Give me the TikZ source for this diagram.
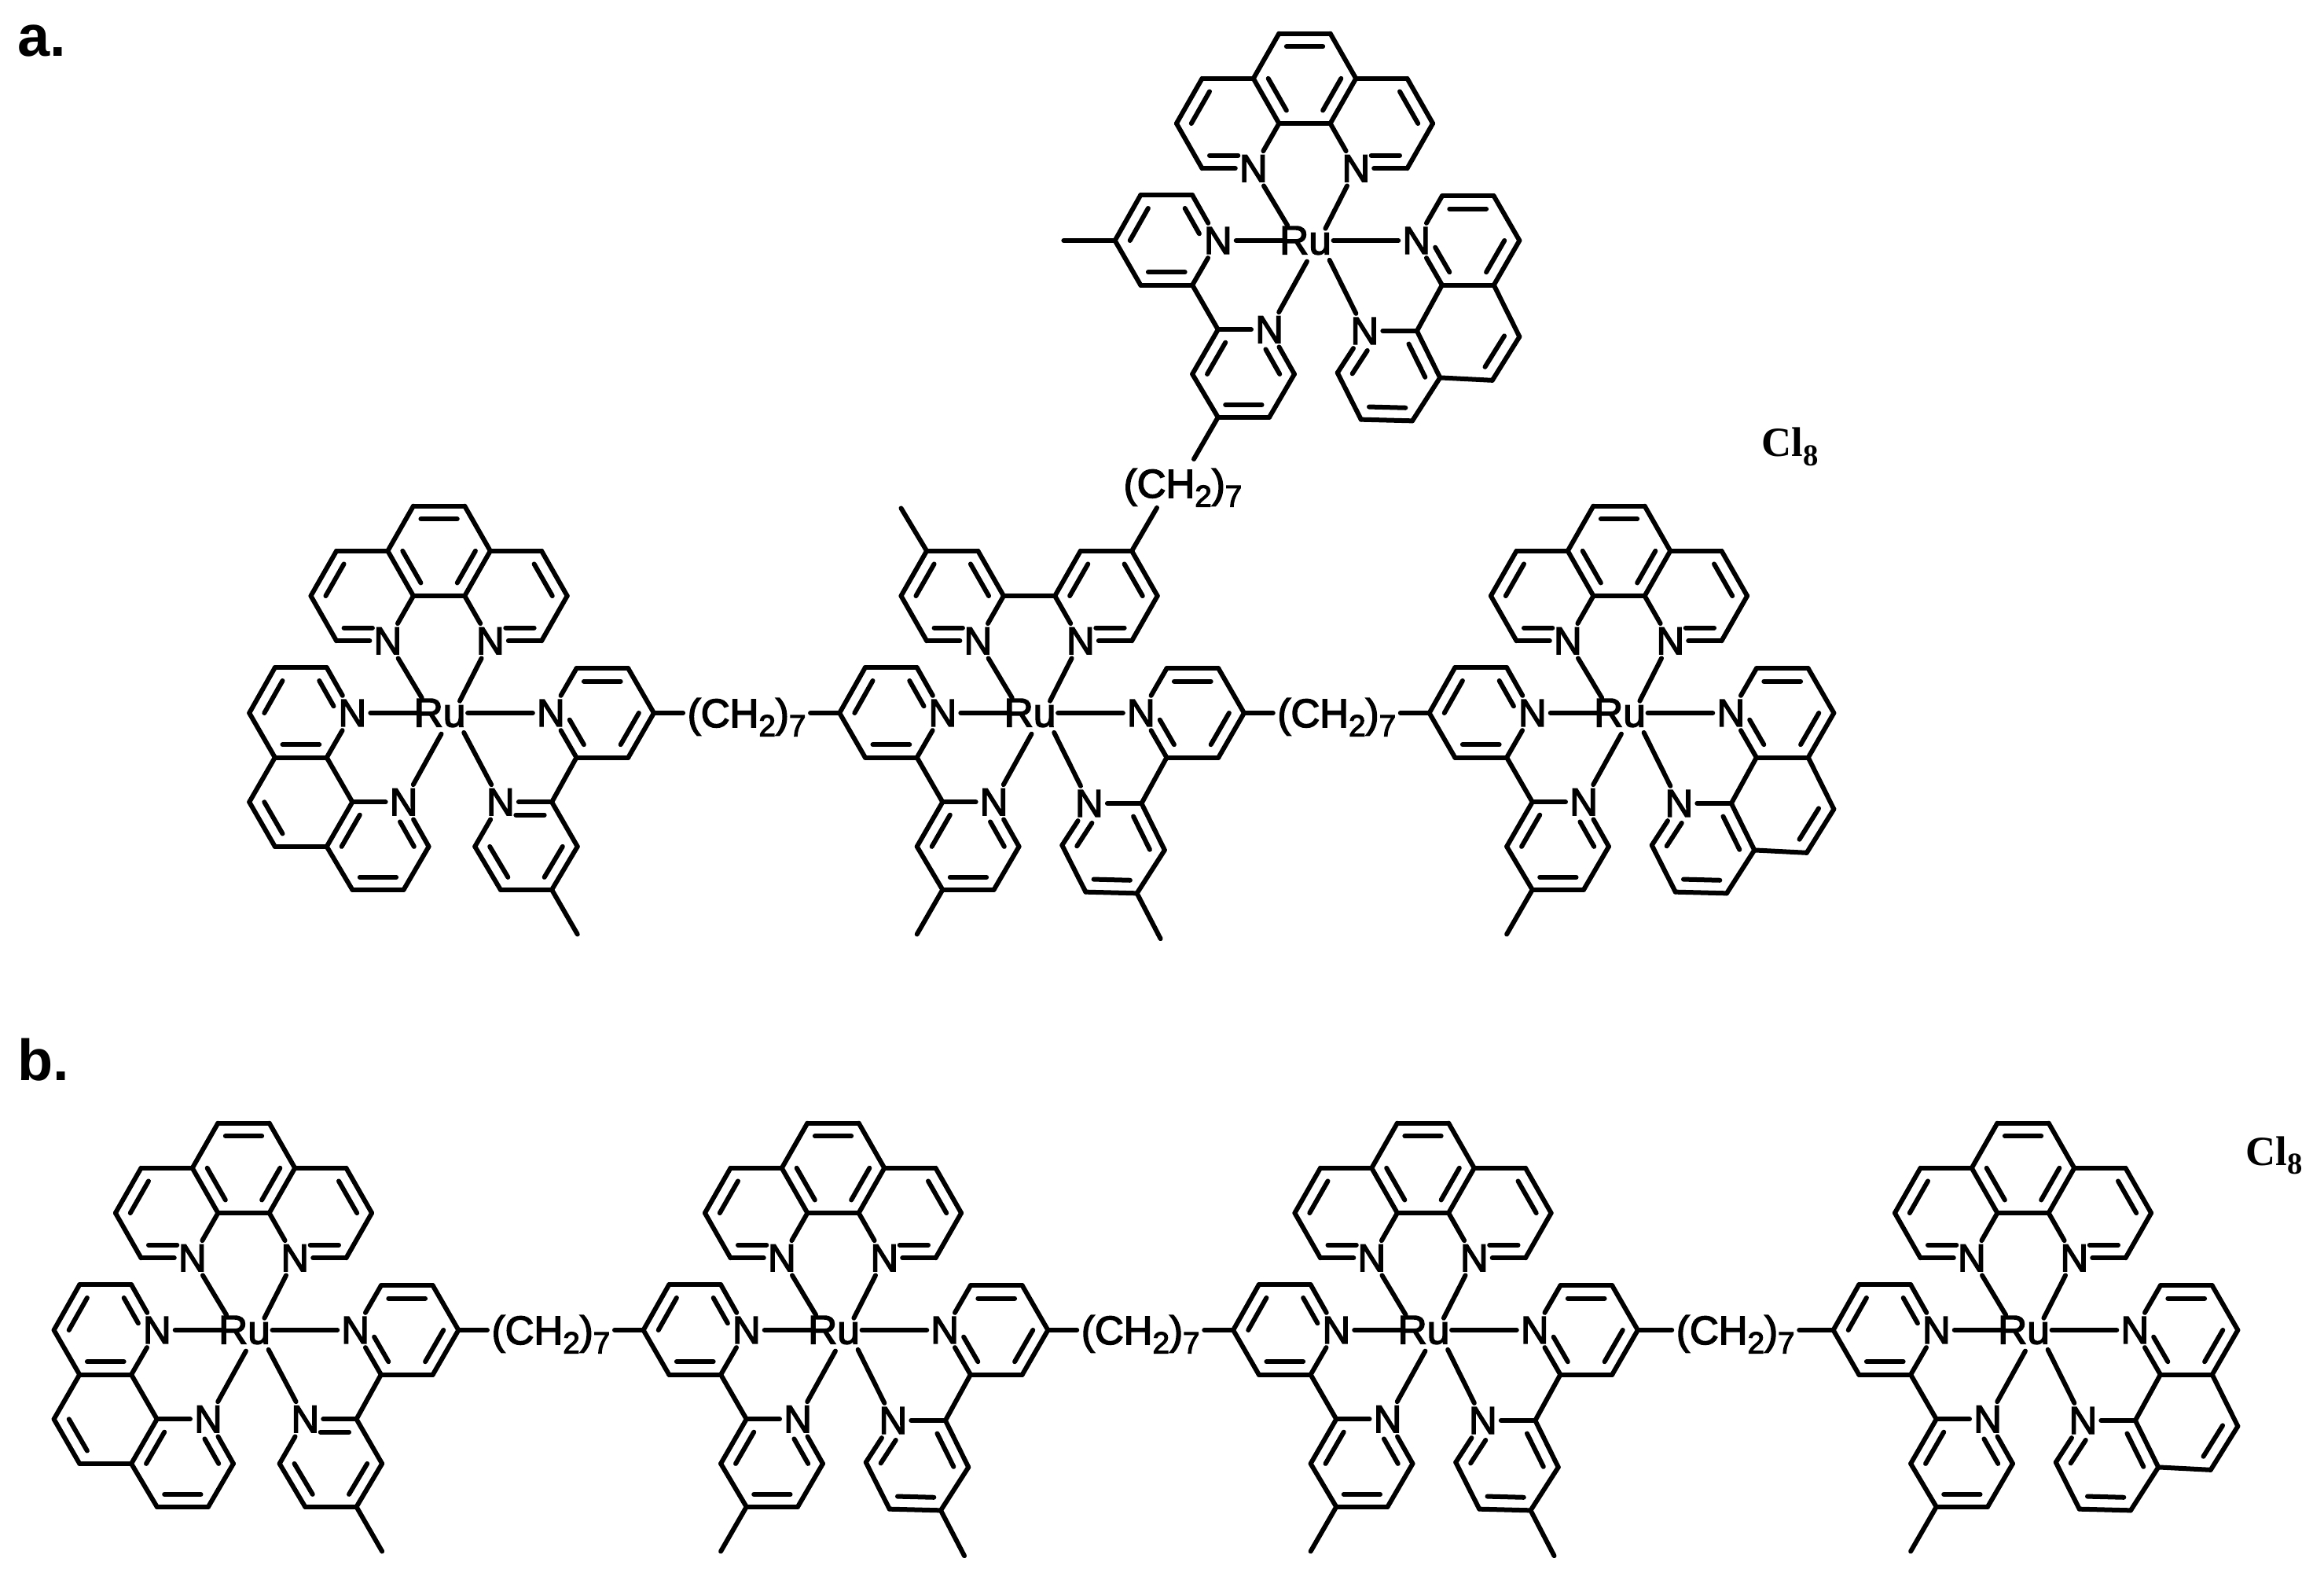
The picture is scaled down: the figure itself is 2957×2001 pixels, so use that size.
\documentclass[tikz,border=0pt]{standalone}
\usepackage{fontspec}
\usetikzlibrary{calc}
\setmainfont{Liberation Sans}
\newfontfamily\atomfont[FakeBold=3]{Liberation Sans}
\newfontfamily\clfont{Liberation Serif}

\newcommand{\atoms}[2]{\foreach \n/\x/\y in {#2} \coordinate (#1\n) at (\x,\y);}
\newcommand{\hetero}[2]{\foreach \n/\x/\y in {#2} \node[nitro] (#1\n) at (\x,\y) {N};}
\newcommand{\bonds}[2]{\foreach \from/\to in {#2} \draw[bond] (#1\from) -- (#1\to);}
\newcommand{\dbl}[2]{\foreach \from/\to/\ctr in {#2}
  \draw[bond] ($(#1\from)!.29!(#1\ctr)$) -- ($(#1\to)!.29!(#1\ctr)$);}
\newcommand{\dbn}[2]{\foreach \from/\to/\ctr in {#2}
  \draw[bond,shorten >=.1cm] ($(#1\from)!.29!(#1\ctr)$) -- ($(#1\to)!.29!(#1\ctr)$);}
\newcommand{\methyl}[4]{\atoms{#1}{m#2/#3/#4}\bonds{#1}{#2/m#2}}

% upper ligand
\newcommand{\toprings}[1]{
  \hetero{#1}{T1/-2/-1.62,T2/2/-1.62}
  \atoms{#1}{a1/-4/-1.62,a2/-5/-2.63,a3/-4/-3.64,a4/-2/-3.64,a5/-1/-2.63,b1/4/-1.62,b2/5/-2.63,b3/4/-3.64,b4/2/-3.64,b5/1/-2.63,ra/-3/-2.63,rb/3/-2.63}
  \bonds{#1}{T1/a1,a1/a2,a2/a3,a3/a4,a4/a5,a5/T1,T2/b1,b1/b2,b2/b3,b3/b4,b4/b5,b5/T2,a5/b5}
  \dbl{#1}{a2/a3/ra,b2/b3/rb}
  \dbn{#1}{a1/T1/ra,b1/T2/rb}}
\newcommand{\phentop}[1]{
  \toprings{#1}
  \atoms{#1}{c1/-1/-4.65,c2/1/-4.65,rc/0/-3.64}
  \bonds{#1}{a4/c1,c1/c2,c2/b4}
  \dbl{#1}{a4/a5/rc,b4/b5/rc,c1/c2/rc}}
\newcommand{\bipytop}[1]{
  \toprings{#1}
  \dbl{#1}{a4/a5/ra,b4/b5/rb}
  \methyl{#1}{a3}{-5}{-4.6}}

% left ligand
\newcommand{\leftrings}[1]{
  \hetero{#1}{N1/-3.38/0,N2/-1.38/2}
  \atoms{#1}{l1/-4.38/-1.02,l2/-6.4/-1.02,l3/-7.4/0,l4/-6.4/1,l5/-4.38/1,rl/-5.38/0,l6/-3.38/2,l7/-.4/3,l8/-1.38/3.97,l9/-3.38/3.97,l10/-4.38/3,rm/-2.38/3}
  \bonds{#1}{N1/l1,l1/l2,l2/l3,l3/l4,l4/l5,l5/N1,l5/l6,l6/N2,N2/l7,l7/l8,l8/l9,l9/l10,l10/l6}
  \dbl{#1}{l2/l3/rl,l4/l5/rl,l6/l10/rm,l8/l9/rm}
  \dbn{#1}{l1/N1/rl,l7/N2/rm}}
\newcommand{\leftphen}[1]{
  \leftrings{#1}
  \atoms{#1}{l11/-7.4/2,l12/-6.4/3,rn/-5.38/2}
  \bonds{#1}{l4/l11,l11/l12,l12/l10}
  \dbl{#1}{l11/l12/rn}}

% right ligand
\newcommand{\rightrings}[1]{
  \hetero{#1}{N3/4.36/0}
  \atoms{#1}{r1/5.36/-1,r2/7.38/-1,r3/8.38/0,r4/7.38/1,r5/5.36/1,rr/6.36/0}
  \bonds{#1}{N3/r1,r1/r2,r2/r3,r3/r4,r4/r5,r5/N3}
  \dbl{#1}{r1/r2/rr,r3/r4/rr}
  \dbn{#1}{r5/N3/rr}}
\newcommand{\lowerflat}[1]{
  \hetero{#1}{N4/2.4/2}
  \atoms{#1}{r6/4.4/2,r7/1.4/3,r8/2.4/3.97,r9/4.4/3.97,r10/5.4/3,rs/3.4/3}
  \bonds{#1}{r5/r6,r6/N4,N4/r7,r7/r8,r8/r9,r9/r10,r10/r6}
  \dbl{#1}{r7/r8/rs,r9/r10/rs}
  \dbn{#1}{r6/N4/rs}}
\newcommand{\lowertilt}[1]{
  \hetero{#1}{N4/2.34/2.03}
  \atoms{#1}{r6/4.38/2.03,r7/1.28/2.97,r8/2.2/4.02,r9/4.2/4.05,r10/5.28/3.08,rs/3.28/3.04}
  \bonds{#1}{r5/r6,r6/N4,N4/r7,r7/r8,r8/r9,r9/r10,r10/r6}
  \dbl{#1}{r8/r9/rs,r6/r10/rs}
  \dbn{#1}{r7/N4/rs}}
\newcommand{\rightphen}[1]{
  \rightrings{#1}
  \lowertilt{#1}
  \atoms{#1}{r11/7.32/3.14,r12/8.38/2.16,rt/6.34/2.1}
  \bonds{#1}{r4/r12,r12/r11,r11/r10}
  \dbl{#1}{r12/r11/rt}}

% the metal, with the ends of its six bonds
\newcommand{\metal}[1]{
  \node[ruth] (#1Ru) at (.03,0) {Ru};
  \atoms{#1}{e1/-.67/-.34,e2/.81/-.27,e3/-.87/0,e4/1.12/0,e5/.09/.47,e6/.97/.44}
  \foreach \to/\e in {T1/e1,T2/e2,N1/e3,N3/e4,N2/e5,N4/e6}
    \draw[bond] (#1\to) -- (#1\e);}

\begin{document}
\begin{tikzpicture}
  [x=.01cm,y=-.01cm,
   bond/.style={line width=.06cm,line cap=round,line join=round},
   nitro/.style={font=\atomfont\fontsize{14}{14}\selectfont,inner sep=.045cm},
   ruth/.style={font=\atomfont\fontsize{14.6}{14.6}\selectfont,inner sep=0pt},
   chain/.style={font=\atomfont\fontsize{14.5}{14.5}\selectfont,text height=.36cm,text depth=0pt,inner xsep=.05cm,inner ysep=0pt},
   salt/.style={font=\clfont\bfseries\fontsize{15}{15}\selectfont,anchor=base west,inner sep=0pt},
   panel/.style={font=\bfseries\fontsize{21}{21}\selectfont,anchor=base west,inner sep=0pt},
   lattice/.style={shift={#1},x=.326cm,y=-.566cm}]
  \useasboundingbox (0,0) rectangle (2957,2001);
  \newcommand{\low}[1]{\raisebox{-.115cm}{\fontsize{11}{11}\selectfont #1}}

  \node[panel] (pa) at (22,72) {a.};
  \node[panel] (pb) at (22,1374) {b.};
  \node[salt] (cla) at (2241,581) {Cl\low{8}};
  \node[salt] (clb) at (2857,1482) {Cl\low{8}};

  % panel a
  \begin{scope}[lattice={(1660,306)}]
    \phentop{A-} \leftrings{A-} \methyl{A-}{l3}{-9.4}{0} \rightphen{A-} \metal{A-}
  \end{scope}
  \begin{scope}[lattice={(558.6,907)}]
    \phentop{B-} \leftphen{B-} \rightrings{B-} \lowerflat{B-} \methyl{B-}{r9}{5.4}{4.97} \metal{B-}
  \end{scope}
  \begin{scope}[lattice={(1309.6,907)}]
    \bipytop{C-} \leftrings{C-} \methyl{C-}{l9}{-4.38}{4.97}
    \rightrings{C-} \lowertilt{C-} \methyl{C-}{r9}{5.12}{5.07} \metal{C-}
  \end{scope}
  \begin{scope}[lattice={(2060,907)}]
    \phentop{D-} \leftrings{D-} \methyl{D-}{l9}{-4.38}{4.97} \rightphen{D-} \metal{D-}
  \end{scope}

  % panel b
  \begin{scope}[lattice={(310,1692)}]
    \phentop{E-} \leftphen{E-} \rightrings{E-} \lowerflat{E-} \methyl{E-}{r9}{5.4}{4.97} \metal{E-}
  \end{scope}
  \foreach \c/\px in {F/1060,G/1810.5}{
    \begin{scope}[lattice={(\px,1692)}]
      \phentop{\c-} \leftrings{\c-} \methyl{\c-}{l9}{-4.38}{4.97}
      \rightrings{\c-} \lowertilt{\c-} \methyl{\c-}{r9}{5.12}{5.07} \metal{\c-}
    \end{scope}}
  \begin{scope}[lattice={(2574,1692)}]
    \phentop{H-} \leftrings{H-} \methyl{H-}{l9}{-4.38}{4.97} \rightphen{H-} \metal{H-}
  \end{scope}

  % chains between the complexes
  \foreach \from/\to/\k in {B/C/k1,C/D/k2,E/F/k3,F/G/k4,G/H/k5}{
    \node[chain] (\k) at ($(\from-r3)!.5!(\to-l3)$) {(CH\low{2})\low{7}};
    \draw[bond] (\from-r3) -- (\k);
    \draw[bond] (\k) -- (\to-l3);}
  \node[chain] (k0) at (1505,615) {(CH\low{2})\low{7}};
  \coordinate (k0t) at (1519,584);
  \coordinate (k0b) at (1472,646);
  \draw[bond] (A-l9) -- (k0t);
  \draw[bond] (C-b3) -- (k0b);
\end{tikzpicture}
\end{document}
